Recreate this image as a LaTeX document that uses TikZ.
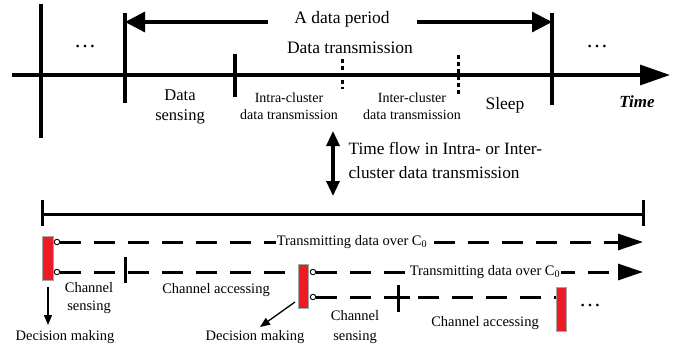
\documentclass[tikz,border=0pt]{standalone}
\usepackage{fontspec}
\setmainfont{Liberation Serif}
\usetikzlibrary{arrows.meta}
\definecolor{boxred}{HTML}{ED1C24}
\begin{document}
\begin{tikzpicture}[x=1pt,y=-1pt,
  bar/.style={line width=3.2pt},
  thinbar/.style={line width=3pt},
  dotbar/.style={line width=3pt, dash pattern=on 4pt off 3pt},
  dashline/.style={line width=3pt, dash pattern=on 21pt off 13pt},
  rbox/.style={draw=gray!70, line width=0.6pt, fill=boxred, minimum width=10.5pt, minimum height=44pt, inner sep=0pt},
  port/.style={circle, draw, line width=0.9pt, fill=white, minimum size=5.5pt, inner sep=0pt},
  big/.style={font=\fontsize{17.5}{20}\selectfont},
  mid/.style={font=\fontsize{16.5}{20}\selectfont, align=center},
  small/.style={font=\fontsize{14.5}{17}\selectfont, align=center},
  tiny/.style={font=\fontsize{14}{17}\selectfont, align=center},
  dots/.style={font=\fontsize{22}{22}\selectfont},
  lbl/.style={fill=white, inner sep=1pt},
  decarrow/.style={line width=1.3pt, -{Triangle[length=10pt,width=8pt]}}
]
\useasboundingbox (0,0) rectangle (690,351);

% ---------- top time line ----------
\coordinate (tl0) at (12,75);
\coordinate (tl1) at (670,75);
\draw[bar, -{Triangle[length=30pt,width=20pt]}] (tl0) -- (tl1);

\draw[bar] (41,4) -- (41,138);
\draw[bar] (125,13) -- (125,103);
\draw[bar] (235,54) -- (235,97);
\draw[dotbar] (342,59) -- (342,89);
\draw[dotbar] (458,55) -- (458,95);
\draw[bar] (552,13) -- (552,105);

\node[dots] (dl) at (85,47) {…};
\node[dots] (dr) at (597,47) {…};

% A data period
\node[big] (adp) at (342,19) {A data period};
\coordinate (adpLs) at (268,22);
\coordinate (adpL) at (125,22);
\coordinate (adpRs) at (417,22);
\coordinate (adpR) at (552,22);
\draw[bar, -{Triangle[length=20pt,width=20pt]}] (adpLs) -- (adpL);
\draw[bar, -{Triangle[length=20pt,width=20pt]}] (adpRs) -- (adpR);

\node[big] (dtx) at (350,48) {Data transmission};
\node[mid] (dsens) at (180,107) {Data\\sensing};
\node[tiny] (intra) at (289,106) {Intra-cluster\\data transmission};
\node[tiny] (inter) at (412,106) {Inter-cluster\\data transmission};
\node[big] (sleep) at (505,105) {Sleep};
\node[font=\fontsize{17}{20}\selectfont\bfseries\itshape] (time) at (637,102) {Time};

% ---------- middle ----------
\coordinate (ma) at (333,131);
\coordinate (mb) at (333,196);
\draw[bar, {Triangle[length=15pt,width=13pt]}-{Triangle[length=15pt,width=13pt]}] (ma) -- (mb);
\node[big, align=left, anchor=west, font=\fontsize{17.3}{24}\selectfont] (flow) at (345,160)
  {Time flow in Intra- or Inter-\\cluster data transmission};

% ---------- bottom ----------
\coordinate (bl) at (42,214);
\coordinate (br) at (643,214);
\draw[thinbar] (bl) -- (br);
\draw[thinbar] (42,200) -- (42,226);
\draw[thinbar] (643,200) -- (643,226);

\node[rbox] (r1) at (48,258.5) {};
\node[rbox] (r2) at (303.5,286) {};
\node[rbox] (r3) at (561.5,309) {};

\node[port] (p1) at (57,242) {};
\node[port] (p2) at (57,272) {};
\node[port] (p3) at (313,272) {};
\node[port] (p4) at (313,297) {};

\coordinate (e1) at (643,242);
\coordinate (e2) at (643,272);

\draw[dashline, -{Triangle[length=25pt,width=16pt]}] (p1.east) -- (e1);
\draw[dashline] (p2.east) -- (r2.west |- p2);
\draw[dashline, -{Triangle[length=25pt,width=16pt]}] (p3.east) -- (e2);
\draw[dashline] (p4.east) -- (r3.west |- p4);

\node[small, lbl] (t1) at (352,242) {Transmitting data over C\textsubscript{0}};
\node[small, lbl] (t2) at (485,272) {Transmitting data over C\textsubscript{0}};

\draw[thinbar] (125,257) -- (125,283);
\draw[thinbar] (398,285) -- (398,312);
\draw[thinbar] (387,297) -- (410,297);

\node[dots] (d3) at (590,306) {…};

\node[small, font=\fontsize{14.5}{18}\selectfont] (cs1) at (89,298) {Channel\\sensing};
\node[small] (ca1) at (216,290) {Channel accessing};
\node[small, font=\fontsize{14.5}{20}\selectfont] (cs2) at (355,327) {Channel\\sensing};
\node[small] (ca2) at (485,323) {Channel accessing};

\node[small] (dm1) at (65,337) {Decision making};
\node[small] (dm2) at (255,337) {Decision making};

\coordinate (a1s) at (48,287);
\coordinate (a1e) at (48,325);
\coordinate (a2s) at (295,302);
\coordinate (a2e) at (260,327);
\draw[decarrow] (a1s) -- (a1e);
\draw[decarrow] (a2s) -- (a2e);
\end{tikzpicture}
\end{document}
